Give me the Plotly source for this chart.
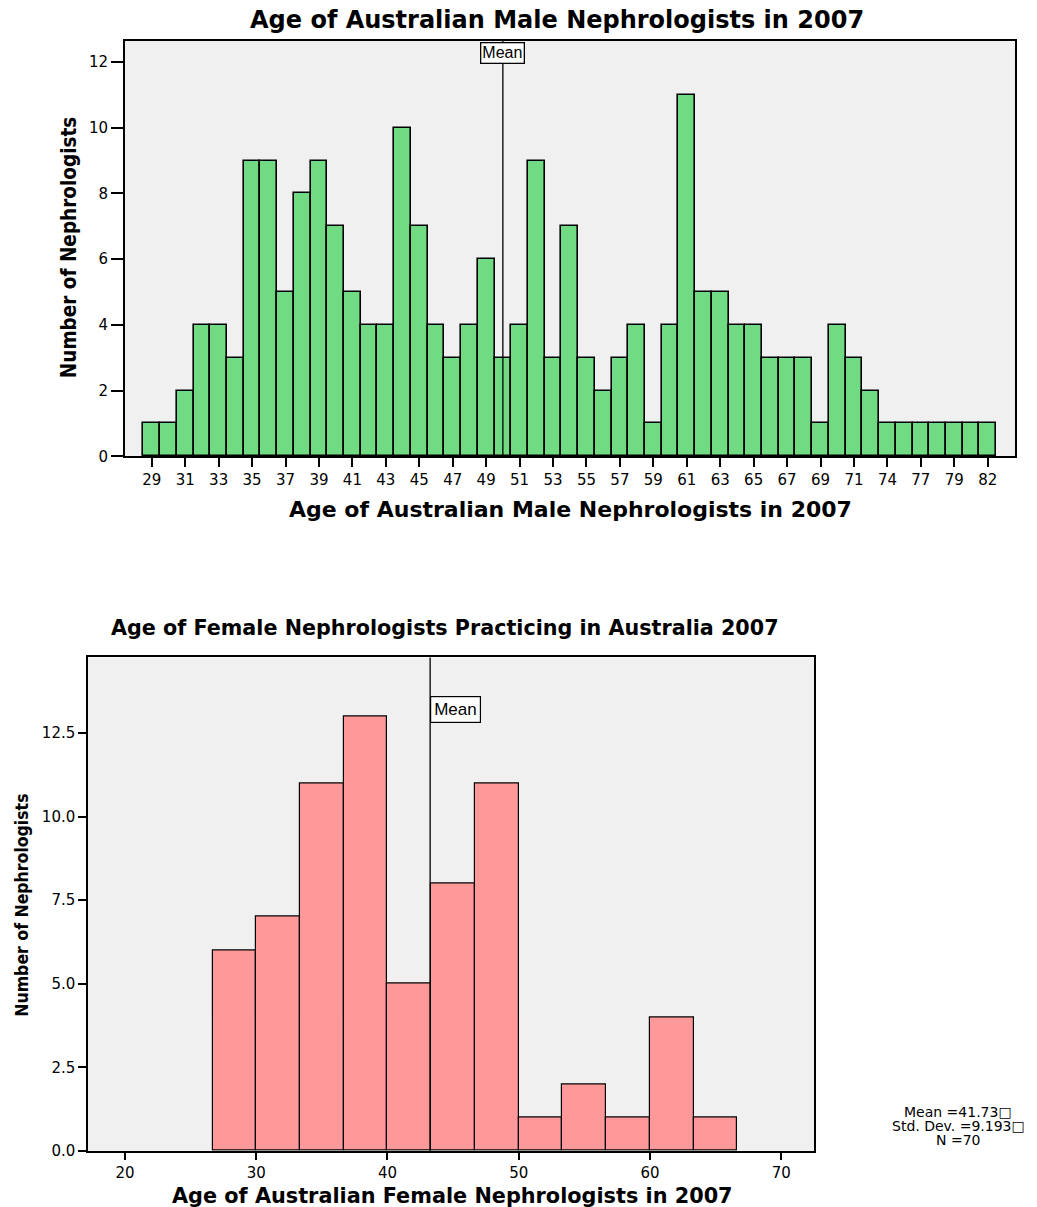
import plotly.graph_objects as go

W, H = 1037, 1207
# the captured page comes out very slightly squashed vertically; positions are
# expressed in captured pixels and stretched back by this factor
V_SCALE = 0.9918

# Male nephrologists: one bar per age that occurs
male_ages = [29, 30, 31, 32, 33, 34, 35, 36, 37, 38, 39, 40, 41, 42, 43, 44, 45, 46,
             47, 48, 49, 50, 51, 52, 53, 54, 55, 56, 57, 58, 59, 60, 61, 62, 63, 64,
             65, 66, 67, 68, 69, 70, 71, 72, 74, 75, 77, 78, 79, 80, 82]
male_counts = [1, 1, 2, 4, 4, 3, 9, 9, 5, 8, 9, 7, 5, 4, 4, 10, 7, 4,
               3, 4, 6, 3, 4, 9, 3, 7, 3, 2, 3, 4, 1, 4, 11, 5, 5, 4,
               4, 3, 3, 3, 1, 4, 3, 2, 1, 1, 1, 1, 1, 1, 1]
male_mean_age = 50

# Female nephrologists: histogram bins
female_bin_lo = [26.667, 30.0, 33.333, 36.667, 40.0, 43.333, 46.667, 50.0,
                 53.333, 56.667, 60.0, 63.333]
female_bin_width = 3.333
female_counts = [6, 7, 11, 13, 5, 8, 11, 1, 2, 1, 4, 1]
female_mean_line = 43.25
female_stats = ["Mean =41.73\u25a1", "Std. Dev. =9.193\u25a1", "N =70"]

female_x_ticks = [20, 30, 40, 50, 60, 70]
female_y_ticks = [0, 2.5, 5, 7.5, 10, 12.5]
male_y_ticks = [0, 2, 4, 6, 8, 10, 12]

WIDE = "DejaVu Sans, Verdana, sans-serif"
PLAIN = "Liberation Sans, Arial, sans-serif"
CONDENSED = "DejaVu Sans Condensed, Liberation Sans, Arial, sans-serif"

GREEN = "#70DB83"
PINK = "#FF9999"
PANEL = "#F0F0F0"


def px(x):
    return x / W


def py(y):
    return 1 - (y / V_SCALE) / H


male_labels = [str(a) for a in male_ages]

fig = go.Figure()
fig.add_trace(go.Bar(
    x=male_labels, y=male_counts, xaxis="x", yaxis="y",
    marker=dict(color=GREEN, line=dict(color="black", width=1.6)),
    hoverinfo="x+y", showlegend=False,
))

female_centers = [lo + female_bin_width / 2 for lo in female_bin_lo]
fig.add_trace(go.Bar(
    x=female_centers, y=female_counts, width=[female_bin_width] * len(female_counts),
    xaxis="x2", yaxis="y2",
    marker=dict(color=PINK, line=dict(color="black", width=1.2)),
    hoverinfo="y", showlegend=False,
))

axis_common = dict(
    showline=True, linecolor="black", mirror=True,
    ticks="outside", tickcolor="black",
    showgrid=False, zeroline=False,
    tickfont=dict(family=WIDE, size=15, color="black"),
)

mean_idx = male_ages.index(male_mean_age)

fig.update_layout(
    width=W, height=H,
    margin=dict(l=0, r=0, t=0, b=0),
    paper_bgcolor="white",
    plot_bgcolor=PANEL,
    bargap=0,
    xaxis=dict(
        domain=[px(125), px(1015)], anchor="y", type="category",
        categoryorder="array", categoryarray=male_labels,
        range=[-1.6, len(male_ages) - 1 + 1.63],
        tickmode="array", tickvals=male_labels[::2], ticktext=male_labels[::2],
        linewidth=2, tickwidth=1.5, ticklen=9, **axis_common,
    ),
    yaxis=dict(
        domain=[py(456), py(41)], anchor="x",
        range=[0, 12.64], tickmode="array", tickvals=male_y_ticks,
        linewidth=2, tickwidth=1.5, ticklen=12, **axis_common,
    ),
    xaxis2=dict(
        domain=[px(88), px(814)], anchor="y2",
        range=[17.18, 72.5], tickmode="array", tickvals=female_x_ticks,
        linewidth=1.5, tickwidth=1.5, ticklen=7, **axis_common,
    ),
    yaxis2=dict(
        domain=[py(1150), py(657)], anchor="x2",
        range=[0, 14.76], tickmode="array", tickvals=female_y_ticks,
        tickformat=".1f",
        linewidth=1.5, tickwidth=1.5, ticklen=8, **axis_common,
    ),
)

# mean reference lines
fig.add_shape(type="line", xref="x", yref="y domain",
              x0=mean_idx, x1=mean_idx, y0=0, y1=1,
              line=dict(color="black", width=1.3), layer="above")
fig.add_shape(type="line", xref="x2", yref="y2 domain",
              x0=female_mean_line, x1=female_mean_line, y0=0, y1=1,
              line=dict(color="black", width=1.3), layer="above")

annotations = [
    # titles
    dict(text="<b>Age of Australian Male Nephrologists in 2007</b>",
         x=px(557), y=py(20), font=dict(family=WIDE, size=24, color="black")),
    dict(text="<b>Age of Australian Male Nephrologists in 2007</b>",
         x=px(570), y=py(509), font=dict(family=WIDE, size=22, color="black")),
    dict(text="<b>Number of Nephrologists</b>", textangle=-90,
         x=px(69), y=py(248), font=dict(family=CONDENSED, size=20.5, color="black")),
    dict(text="<b>Age of Female Nephrologists Practicing in Australia 2007</b>",
         x=px(445), y=py(628), font=dict(family=WIDE, size=20.7, color="black")),
    dict(text="<b>Age of Australian Female Nephrologists in 2007</b>",
         x=px(452), y=py(1195), font=dict(family=WIDE, size=20.8, color="black")),
    dict(text="<b>Number of Nephrologists</b>", textangle=-90,
         x=px(22), y=py(905), font=dict(family=CONDENSED, size=17.5, color="black")),
]
for a in annotations:
    a.update(xref="paper", yref="paper", xanchor="center", yanchor="middle",
             showarrow=False)
    fig.add_annotation(**a)

# mean labels
fig.add_annotation(text="Mean", xref="x", yref="y domain", x=mean_idx, y=0.997,
                   xanchor="center", yanchor="top", showarrow=False,
                   font=dict(family=PLAIN, size=16, color="black"),
                   bgcolor="white", bordercolor="black", borderwidth=1.3,
                   borderpad=1)
fig.add_annotation(text="Mean", xref="x2", yref="y2", x=female_mean_line, y=13.2,
                   xanchor="left", yanchor="middle", showarrow=False,
                   font=dict(family=PLAIN, size=17, color="black"),
                   bgcolor="white", bordercolor="black", borderwidth=1.2,
                   borderpad=3)

# summary statistics
for i, line in enumerate(female_stats):
    fig.add_annotation(text=line, xref="paper", yref="paper",
                       x=px(958), y=py(1111 + 14 * i),
                       xanchor="center", yanchor="middle", showarrow=False,
                       font=dict(family=WIDE, size=14, color="black"))

fig.write_html("out.html")
